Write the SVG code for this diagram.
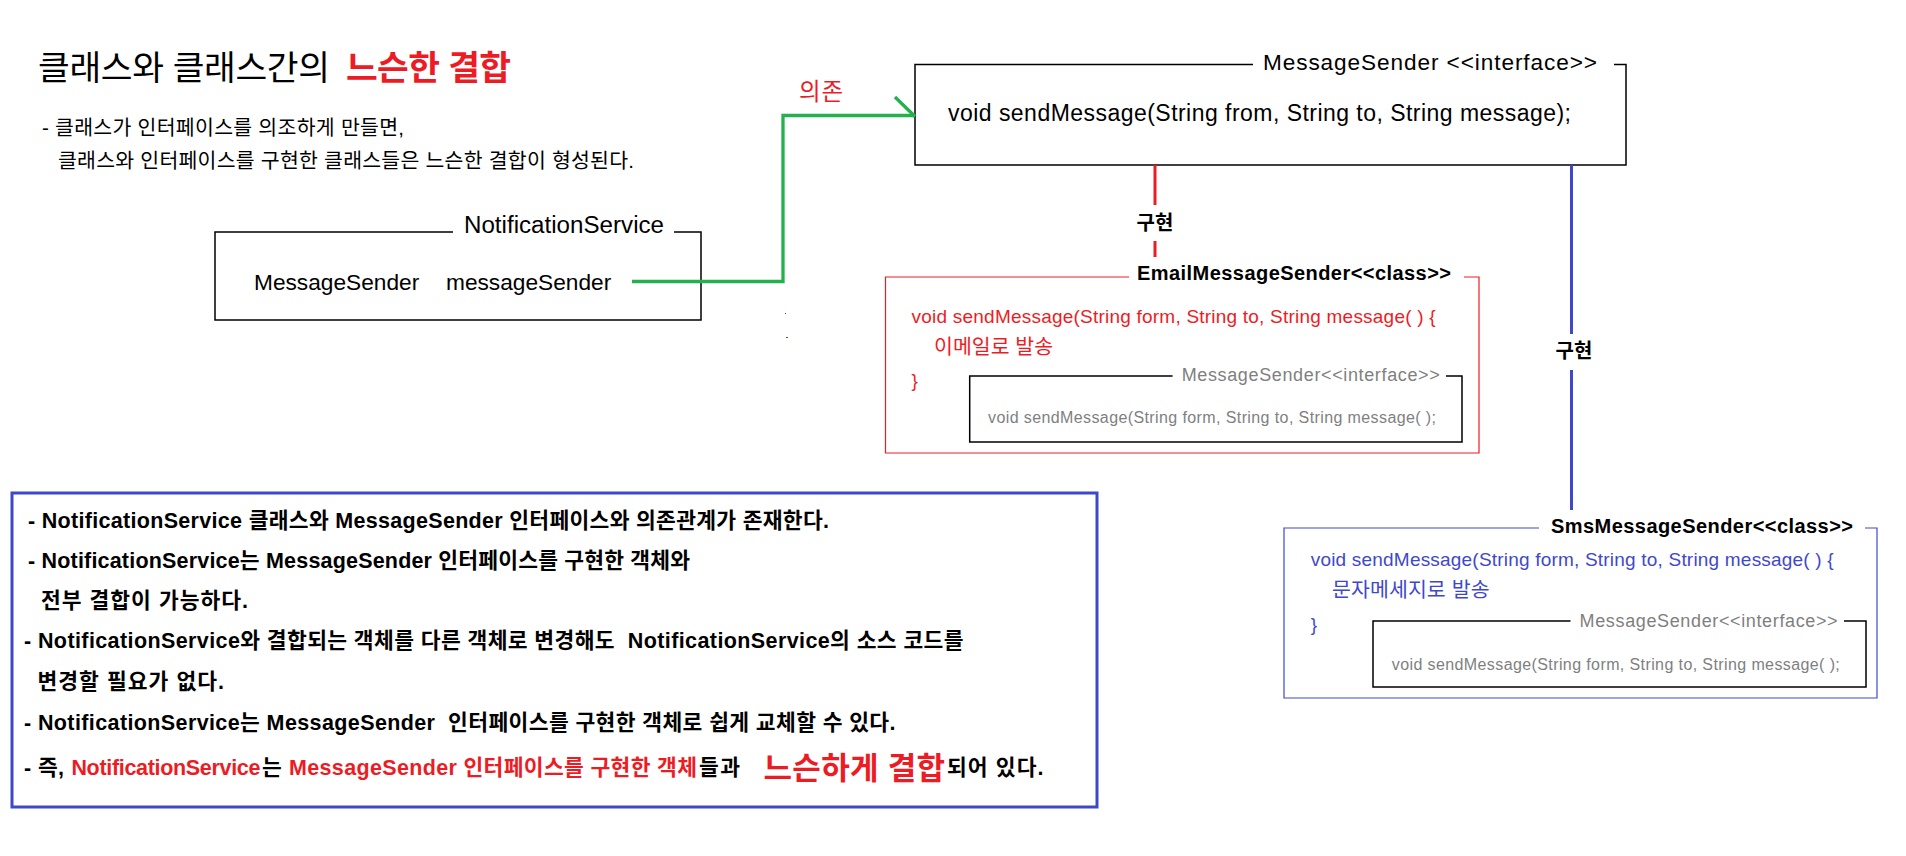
<svg xmlns="http://www.w3.org/2000/svg" width="1906" height="856" viewBox="0 0 1906 856">
<style>
text{font-family:"Liberation Sans","Noto Sans CJK KR",sans-serif;fill:#000;white-space:pre}
.b{font-weight:bold}
.red{fill:#ed1c24}
.blue{fill:#3f48cc}
.gray{fill:#7f7f7f}
.box{fill:none;stroke:#000;stroke-width:1.5}
.rbox{fill:none;stroke:#ed1c24;stroke-width:1.2}
.bbox{fill:none;stroke:#3f48cc;stroke-width:1.2}
.lbl{font-size:20px;font-weight:bold;text-anchor:middle}
.sum{font-size:21.5px;font-weight:bold}
</style>
<rect width="1906" height="856" fill="#fff"/>
<g id="title"><text x="38" y="80" font-size="34.5" textLength="292">클래스와 클래스간의</text><text x="346" y="80" font-size="34.5" class="red b" textLength="165">느슨한 결합</text></g>
<g id="subtitle"><text x="42" y="135" font-size="20.5" textLength="362">- 클래스가 인터페이스를 의조하게 만들면,</text><text x="58" y="168" font-size="20.5" textLength="576">클래스와 인터페이스를 구현한 클래스들은 느슨한 결합이 형성된다.</text></g>
<g id="notification-service"><path class="box" d="M453,232 H215 V320 H701 V232 H674"/><text x="464" y="233" font-size="23.5" textLength="200" lengthAdjust="spacingAndGlyphs">NotificationService</text><text x="254" y="290" font-size="22.7">MessageSender</text><text x="446" y="290" font-size="22.7">messageSender</text></g>
<g id="message-sender-interface"><path class="box" d="M1253,64.5 H915 V165 H1626 V64.5 H1614"/><text x="1263" y="69.5" font-size="22.6" textLength="334">MessageSender &lt;&lt;interface&gt;&gt;</text><text x="948" y="121" font-size="23" textLength="623">void sendMessage(String from, String to, String message);</text></g>
<g id="email-message-sender"><path class="rbox" d="M1129,277 H885.5 V453 H1479 V277 H1464"/><text x="1137" y="279.5" font-size="20" class="b" textLength="314">EmailMessageSender&lt;&lt;class&gt;&gt;</text><text x="911.6" y="323" font-size="19" class="red" textLength="524">void sendMessage(String form, String to, String message( ) {</text><text x="934" y="354" font-size="20.5" class="red" textLength="119">이메일로 발송</text><text x="911.6" y="387" font-size="19" class="red">}</text><path class="box" d="M1172.6,376 H969.7 V442 H1462 V376 H1446"/><text x="1181.7" y="381" font-size="18" class="gray" textLength="258">MessageSender&lt;&lt;interface&gt;&gt;</text><text x="988" y="423" font-size="16" class="gray" textLength="448">void sendMessage(String form, String to, String message( );</text></g>
<g id="sms-message-sender"><path class="bbox" d="M1539,528 H1284 V698 H1877 V528 H1865"/><text x="1551" y="532.6" font-size="20" class="b" textLength="302">SmsMessageSender&lt;&lt;class&gt;&gt;</text><text x="1310.7" y="565.6" font-size="19" class="blue" textLength="523">void sendMessage(String form, String to, String message( ) {</text><text x="1332" y="597" font-size="20.5" class="blue" textLength="157.5">문자메세지로 발송</text><text x="1310.7" y="631" font-size="19" class="blue">}</text><path class="box" d="M1570.5,621 H1373 V687 H1866 V621 H1844"/><text x="1579.6" y="627" font-size="18" class="gray" textLength="258">MessageSender&lt;&lt;interface&gt;&gt;</text><text x="1391.8" y="669.6" font-size="16" class="gray" textLength="448">void sendMessage(String form, String to, String message( );</text></g>
<g id="connectors"><path d="M632,281.5 H783 V115.5 H915" fill="none" stroke="#22b14c" stroke-width="3.3"/><path d="M895,97 L915,116.5" fill="none" stroke="#22b14c" stroke-width="3.3"/><text x="799" y="100" font-size="23.5" class="red" textLength="44">의존</text><path d="M1155,165 V205 M1155,241 V257" stroke="#ed1c24" stroke-width="3" fill="none"/><text x="1155" y="230" class="lbl">구현</text><path d="M1571.5,165 V334 M1571.5,370 V510" stroke="#3f48cc" stroke-width="3" fill="none"/><text x="1574" y="358" class="lbl">구현</text><rect x="785" y="313" width="1" height="1" fill="#3f48cc"/><rect x="786" y="337" width="2" height="1" fill="#3f48cc"/></g>
<g id="summary"><rect x="12" y="493" width="1085" height="314" fill="none" stroke="#3f48cc" stroke-width="3"/><text x="28" y="528" class="sum" textLength="801">- NotificationService 클래스와 MessageSender 인터페이스와 의존관계가 존재한다.</text><text x="28" y="568" class="sum" textLength="662">- NotificationService는 MessageSender 인터페이스를 구현한 객체와</text><text x="41" y="608" class="sum" textLength="207">전부 결합이 가능하다.</text><text x="24" y="648" class="sum" textLength="939.5">- NotificationService와 결합되는 객체를 다른 객체로 변경해도  NotificationService의 소스 코드를</text><text x="37.5" y="689" class="sum" textLength="186.5">변경할 필요가 없다.</text><text x="24" y="730" class="sum" textLength="871.5">- NotificationService는 MessageSender  인터페이스를 구현한 객체로 쉽게 교체할 수 있다.</text><text x="24" y="775" class="sum" textLength="40">- 즉,</text><text x="71.4" y="775" class="sum red" textLength="189">NotificationService</text><text x="262" y="775" class="sum" textLength="20">는</text><text x="289" y="775" class="sum red" textLength="408">MessageSender 인터페이스를 구현한 객체</text><text x="699" y="775" class="sum" textLength="41">들과</text><text x="763.5" y="779" class="b red" font-size="31" textLength="181.5">느슨하게 결합</text><text x="947" y="775" class="sum" textLength="96.5">되어 있다.</text></g>
</svg>
